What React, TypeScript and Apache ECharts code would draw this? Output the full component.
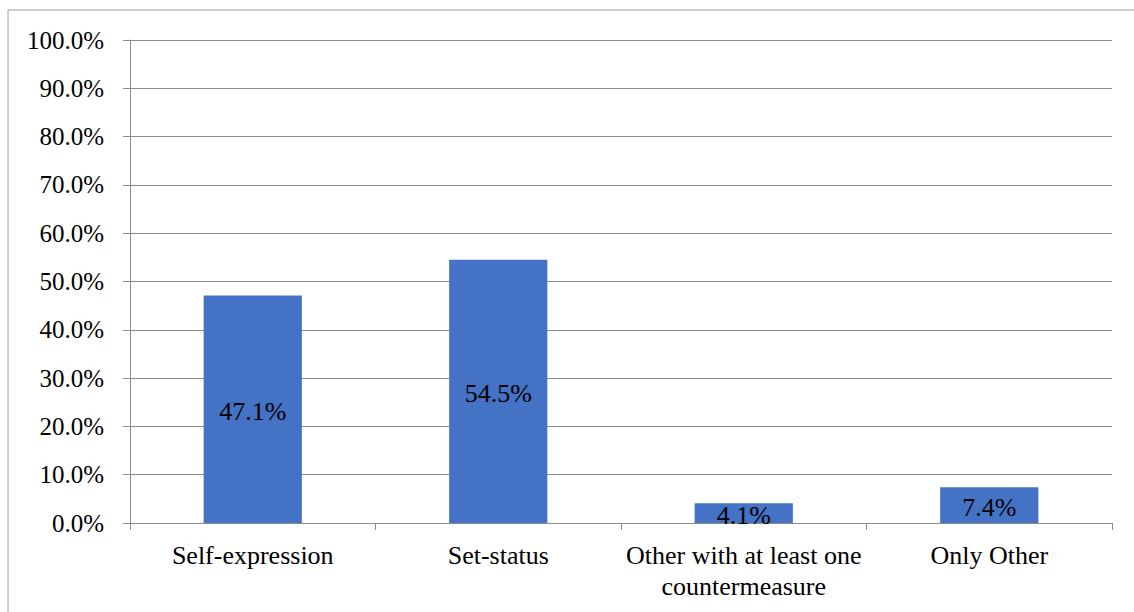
import React, { useEffect, useRef } from "react";
import * as echarts from "echarts";

const categories = ["Self-expression", "Set-status", "Other with at least one\ncountermeasure", "Only Other"];
const values = [47.1, 54.5, 4.1, 7.4];

export default function App() {
  const ref = useRef<HTMLDivElement>(null);
  useEffect(() => {
    const chart = echarts.init(ref.current!, null, { renderer: "svg" });
    const font = "Liberation Serif";
    chart.setOption({
      animation: false,
      textStyle: { fontFamily: font },
      graphic: [
        {
          type: "rect",
          shape: { x: 8, y: 10, width: 1140, height: 620 },
          style: { fill: "none", stroke: "#a0a0a0", lineWidth: 1 },
          silent: true,
        },
      ],
      grid: { left: 130, right: 22, top: 40, bottom: 89, containLabel: false },
      xAxis: {
        type: "category",
        data: categories,
        axisLine: { lineStyle: { color: "#8c8c8c", width: 1 } },
        axisTick: { show: true, length: 7, lineStyle: { color: "#8c8c8c" } },
        axisLabel: { color: "#000", fontSize: 26, fontFamily: font, margin: 17, lineHeight: 31, interval: 0 },
      },
      yAxis: {
        type: "value",
        min: 0,
        max: 100,
        interval: 10,
        axisLine: { show: true, lineStyle: { color: "#8c8c8c", width: 1 } },
        axisTick: { show: true, length: 7, lineStyle: { color: "#8c8c8c" } },
        splitLine: { show: true, lineStyle: { color: "#8c8c8c", width: 1 } },
        axisLabel: {
          color: "#000",
          fontSize: 25,
          fontFamily: font,
          margin: 26,
          formatter: (v: number) => v.toFixed(1) + "%",
        },
      },
      series: [
        {
          type: "bar",
          data: values,
          barWidth: "40%",
          itemStyle: { color: "#4472c4" },
          label: {
            show: true,
            position: "inside",
            offset: [0, 2],
            color: "#000",
            fontSize: 26,
            fontFamily: font,
            formatter: (p: any) => p.value.toFixed(1) + "%",
          },
        },
      ],
    });
    return () => chart.dispose();
  }, []);
  return (
    <div
      ref={ref}
      style={{ position: "fixed", left: 0, top: 0, width: 1134, height: 612, background: "#fff" }}
    />
  );
}
